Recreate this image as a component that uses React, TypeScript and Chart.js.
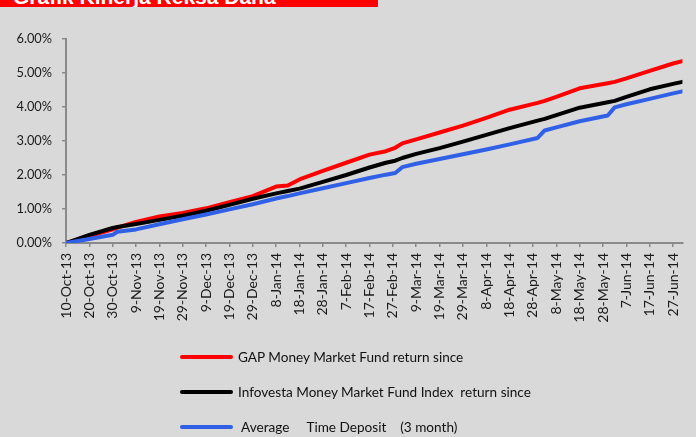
import React, { useEffect, useRef } from "react";
import { Chart, registerables } from "chart.js";

Chart.register(...registerables);

const startDate = "2013-10-10";
const endDate = "2014-07-01";

const pointDates = [
  "2013-10-10", "2013-10-20", "2013-10-30", "2013-11-01", "2013-11-09", "2013-11-19",
  "2013-11-29", "2013-12-09", "2013-12-19", "2013-12-29", "2014-01-08", "2014-01-13",
  "2014-01-18", "2014-01-28", "2014-02-07", "2014-02-17", "2014-02-24", "2014-02-28",
  "2014-03-03", "2014-03-09", "2014-03-19", "2014-03-29", "2014-04-08", "2014-04-18",
  "2014-04-30", "2014-05-03", "2014-05-08", "2014-05-18", "2014-05-30", "2014-06-02",
  "2014-06-07", "2014-06-17", "2014-06-27", "2014-07-01",
];

const gapReturn = [
  0, 0.2, 0.4, 0.45, 0.62, 0.78,
  0.88, 1.02, 1.2, 1.38, 1.66, 1.69,
  1.87, 2.12, 2.36, 2.6, 2.7, 2.8,
  2.93, 3.05, 3.25, 3.45, 3.68, 3.92,
  4.12, 4.18, 4.3, 4.55, 4.7, 4.74,
  4.84, 5.06, 5.28, 5.35,
];

const infovestaReturn = [
  0, 0.24, 0.44, 0.47, 0.56, 0.68,
  0.8, 0.95, 1.12, 1.3, 1.46, 1.53,
  1.6, 1.8, 2.0, 2.22, 2.36, 2.42,
  2.5, 2.62, 2.79, 2.98, 3.18, 3.38,
  3.6, 3.65, 3.76, 3.98, 4.14, 4.18,
  4.3, 4.52, 4.68, 4.74,
];

const timeDepositReturn = [
  0, 0.12, 0.24, 0.33, 0.4, 0.55,
  0.7, 0.84, 0.99, 1.14, 1.31, 1.38,
  1.46, 1.61, 1.76, 1.91, 2.01, 2.06,
  2.23, 2.33, 2.47, 2.61, 2.75, 2.9,
  3.09, 3.31, 3.4, 3.58, 3.75, 3.99,
  4.08, 4.24, 4.4, 4.46,
];

const xTickLabels = [
  "10-Oct-13", "20-Oct-13", "30-Oct-13", "9-Nov-13", "19-Nov-13", "29-Nov-13",
  "9-Dec-13", "19-Dec-13", "29-Dec-13", "8-Jan-14", "18-Jan-14", "28-Jan-14",
  "7-Feb-14", "17-Feb-14", "27-Feb-14", "9-Mar-14", "19-Mar-14", "29-Mar-14",
  "8-Apr-14", "18-Apr-14", "28-Apr-14", "8-May-14", "18-May-14", "28-May-14",
  "7-Jun-14", "17-Jun-14", "27-Jun-14",
];

const yTickValues = [0, 1, 2, 3, 4, 5, 6];

const seriesLabels = [
  "GAP Money Market Fund return since",
  "Infovesta Money Market Fund Index  return since",
  " Average     Time Deposit    (3 month)",
];
const seriesColors = ["#ff0000", "#000000", "#3060e6"];

const titleText = "Grafik Kinerja Reksa Dana";

const dayOf = (s: string) => {
  const [y, m, d] = s.split("-").map(Number);
  const [y0, m0, d0] = startDate.split("-").map(Number);
  return Math.round((Date.UTC(y, m - 1, d) - Date.UTC(y0, m0 - 1, d0)) / 86400000);
};

const FONT = "Lato, 'Open Sans', sans-serif";

export default function App() {
  const ref = useRef<HTMLCanvasElement | null>(null);

  useEffect(() => {
    if (!ref.current) return;
    const seriesValues = [gapReturn, infovestaReturn, timeDepositReturn];
    const chart = new Chart(ref.current, {
      type: "line",
      data: {
        datasets: seriesValues.map((vals, si) => ({
          label: seriesLabels[si],
          data: pointDates.map((d, i) => ({ x: dayOf(d), y: vals[i] })),
          borderColor: seriesColors[si],
          backgroundColor: seriesColors[si],
          borderWidth: 4,
          pointRadius: 0,
          tension: 0,
          borderJoinStyle: "round" as const,
          borderCapStyle: "round" as const,
          order: 3 - si,
        })),
      },
      options: {
        animation: false,
        responsive: false,
        maintainAspectRatio: false,
        layout: { padding: { top: 39, right: 8, bottom: 114, left: 0 } },
        plugins: { legend: { display: false }, tooltip: { enabled: false } },
        scales: {
          x: {
            type: "linear",
            min: 0,
            max: dayOf(endDate),
            afterFit: (s: any) => {
              s.height = 80;
            },
            afterBuildTicks: (s: any) => {
              s.ticks = xTickLabels.map((_, i) => ({ value: i * 10 }));
            },
            grid: {
              drawOnChartArea: false,
              drawTicks: true,
              tickLength: 4,
              color: "#8a8a8a",
              lineWidth: 1.5,
            },
            border: { display: true, color: "#8a8a8a", width: 2 },
            ticks: {
              autoSkip: false,
              minRotation: 90,
              maxRotation: 90,
              padding: 6,
              color: "#1a1a1a",
              font: { family: FONT, size: 14 },
              callback: (_v: any, i: number) => xTickLabels[i],
            },
          },
          y: {
            min: 0,
            max: 6,
            afterFit: (s: any) => {
              s.width = 66;
            },
            afterBuildTicks: (s: any) => {
              s.ticks = yTickValues.map((v) => ({ value: v }));
            },
            grid: {
              drawOnChartArea: false,
              drawTicks: true,
              tickLength: 4,
              color: "#8a8a8a",
              lineWidth: 1.5,
            },
            border: { display: true, color: "#8a8a8a", width: 2 },
            ticks: {
              padding: 10,
              color: "#1a1a1a",
              font: { family: FONT, size: 12.8 },
              callback: (v: any) => Number(v).toFixed(2) + "%",
            },
          },
        },
      },
    });
    return () => chart.destroy();
  }, []);

  const legendY = [357, 392, 427];

  return (
    <div
      style={{
        position: "fixed",
        left: 0,
        top: 0,
        width: 696,
        height: 437,
        background: "#d9d9d9",
        overflow: "hidden",
      }}
    >
      <div
        style={{
          position: "absolute",
          left: 0,
          top: 0,
          width: 378,
          height: 7,
          background: "#ff0000",
          overflow: "hidden",
        }}
      >
        <div
          style={{
            position: "absolute",
            left: 13,
            top: -14,
            fontFamily: "'Liberation Sans', Arial, sans-serif",
            fontWeight: "bold",
            fontSize: 21,
            lineHeight: "21px",
            color: "#ffffff",
            whiteSpace: "nowrap",
          }}
        >
          {titleText}
        </div>
      </div>
      <canvas
        ref={ref}
        width={696}
        height={437}
        style={{ position: "absolute", left: 0, top: 0, display: "block" }}
      />
      {seriesLabels.map((lab, i) => (
        <div key={i}>
          <div
            style={{
              position: "absolute",
              left: 180,
              top: legendY[i] - 2,
              width: 53,
              height: 4,
              borderRadius: 2,
              background: seriesColors[i],
            }}
          />
          <div
            style={{
              position: "absolute",
              left: 238,
              top: legendY[i] - 9,
              height: 18,
              lineHeight: "18px",
              fontFamily: FONT,
              fontSize: 13.6,
              color: "#111111",
              whiteSpace: "pre",
            }}
          >
            {lab}
          </div>
        </div>
      ))}
    </div>
  );
}
